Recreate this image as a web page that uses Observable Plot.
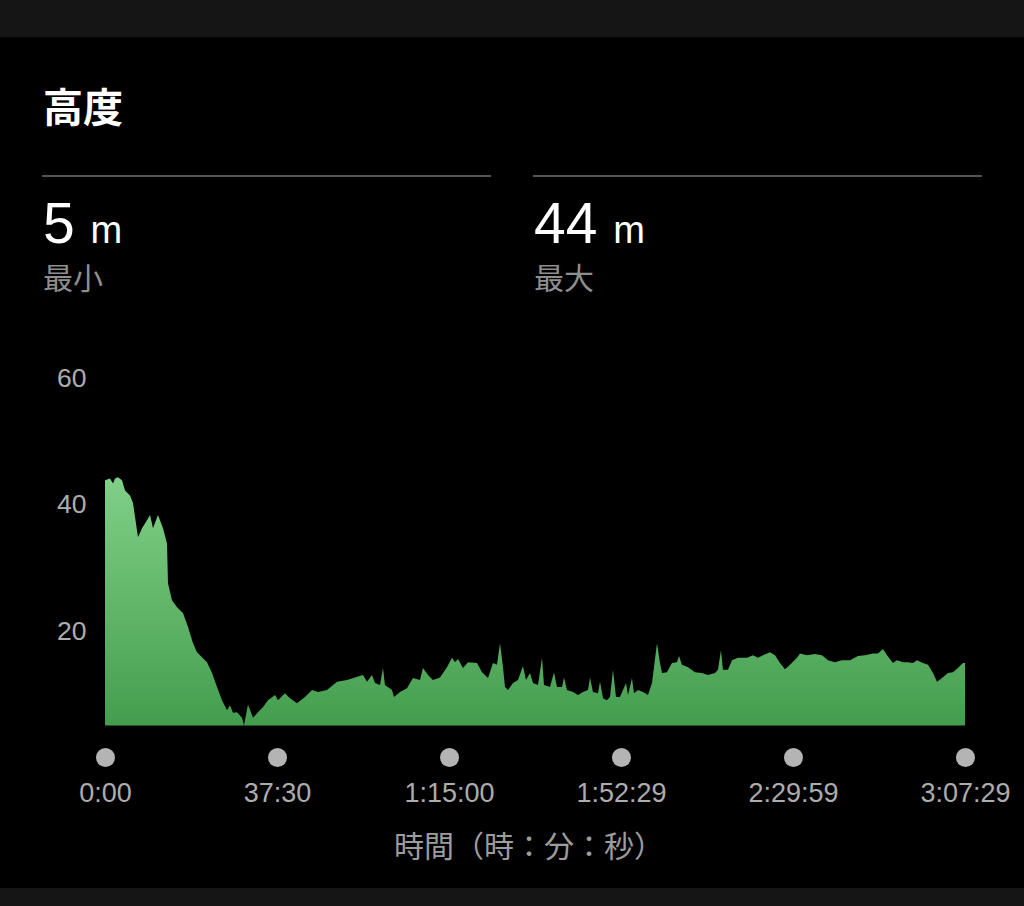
<!DOCTYPE html>
<html>
<head>
<meta charset="utf-8">
<script src="https://cdn.jsdelivr.net/npm/d3@7"></script>
<script src="https://cdn.jsdelivr.net/npm/@observablehq/plot@0.6"></script>
<style>
  html, body { margin: 0; padding: 0; background: #000; width: 1024px; height: 906px; overflow: hidden; }
  body { position: relative; font-family: "Liberation Sans", "Noto Sans CJK JP", sans-serif; }
  .band { position: absolute; left: 0; width: 1024px; background: #151515; }
  .abs { position: absolute; white-space: nowrap; }
  .cjk { font-family: "Noto Sans CJK JP", sans-serif; line-height: 1; }
  .rule { position: absolute; height: 2px; background: #555555; top: 175px; }
  .num { font-family: "Liberation Sans", sans-serif; color: #fff; line-height: 57px; font-size: 57px; }
  .num .unit { font-size: 38px; }
  #chart { position: absolute; left: 0; top: 340px; }
</style>
</head>
<body>
<div class="band" style="top:0;height:37px"></div>
<div class="band" style="top:888px;height:18px"></div>

<div class="abs cjk" style="left:43px;top:85px;font-size:40px;font-weight:700;color:#fff">高度</div>
<div class="rule" style="left:42px;width:449px"></div>
<div class="rule" style="left:533px;width:449px"></div>
<div class="abs num" id="minVal" style="left:43px;top:195px"></div>
<div class="abs num" id="maxVal" style="left:534px;top:195px"></div>
<div class="abs cjk" style="left:43px;top:261px;font-size:30px;color:#8e8e8e">最小</div>
<div class="abs cjk" style="left:534px;top:261px;font-size:30px;color:#8e8e8e">最大</div>

<div id="chart"></div>
<div class="abs cjk" style="left:529px;top:829px;font-size:30px;color:#9c9c9c;transform:translateX(-50%)">時間（時：分：秒）</div>

<script>
// elapsed time (seconds) and elevation (m)
const timeSec = [0,65,105,131,170,222,262,327,366,432,484,549,589,628,693,759,811,824,876,942,1020,1086,1151,1203,1269,1334,1400,1465,1530,1596,1635,1674,1727,1792,1818,1870,1936,2001,2067,2132,2224,2263,2354,2420,2511,2616,2708,2786,2904,3035,3166,3270,3375,3427,3492,3532,3597,3636,3662,3754,3780,3859,3950,4029,4120,4159,4225,4290,4382,4473,4539,4578,4617,4683,4748,4866,4931,5010,5075,5127,5167,5206,5232,5271,5337,5402,5467,5507,5559,5598,5664,5716,5742,5821,5873,5912,5978,6004,6043,6121,6187,6252,6318,6344,6383,6448,6475,6514,6566,6605,6645,6684,6736,6815,6841,6893,6919,6972,7037,7102,7155,7220,7259,7286,7351,7416,7482,7508,7547,7626,7717,7808,7887,7979,8018,8057,8083,8149,8201,8280,8398,8476,8541,8607,8698,8764,8829,8894,8960,9051,9091,9182,9287,9378,9457,9548,9640,9745,9849,9941,10045,10111,10176,10229,10307,10359,10438,10503,10569,10621,10699,10765,10830,10883,10948,11026,11092,11157,11223,11249];
const elevationM = [43.8,44.1,43.3,44.1,44.3,43.8,42.2,41.4,40.2,34.8,36.2,37.5,38.3,36.2,38.3,36.2,33.8,27.5,24.8,23.7,22.8,20.6,18.0,16.6,15.8,15.0,13.3,11.1,9.0,7.4,8.2,7.0,7.1,6.2,5.0,8.3,6.2,7.1,7.9,9.0,9.8,9.0,10.1,9.3,8.5,9.5,10.6,10.3,10.6,11.9,12.2,12.6,13.0,11.9,13.0,11.7,11.4,14.1,11.4,10.6,9.5,10.3,10.9,12.5,12.2,14.1,13.0,12.2,12.6,14.2,15.7,15.0,15.5,14.1,15.0,14.9,13.4,12.5,14.9,14.6,18.0,14.2,11.1,10.6,11.7,12.2,14.4,12.2,13.3,11.7,11.4,15.7,11.4,11.1,13.4,11.1,11.1,12.6,10.6,10.3,9.8,10.3,10.6,12.6,10.3,10.1,11.9,9.3,9.0,9.5,13.8,9.5,9.5,11.7,9.8,12.5,10.1,10.6,10.3,9.8,11.7,18.0,14.9,13.3,13.4,14.9,15.0,16.0,14.6,14.2,13.4,13.3,13.0,13.3,13.8,16.9,13.8,13.8,15.3,15.7,15.7,16.1,15.7,16.1,16.6,16.1,14.9,13.9,14.6,15.7,16.4,16.1,16.3,16.1,15.3,15.0,15.3,15.3,16.0,16.1,16.4,16.4,17.1,16.1,14.9,15.3,15.0,15.0,14.9,15.3,14.9,14.6,13.3,11.9,12.5,13.3,13.4,14.1,14.9,14.9];
const totalSec = 11249;
const minElevation = 5;
const maxElevation = 44;
const yTicks = [20, 40, 60];
const xTickSec = [0, 2250, 4500, 6749, 8999, 11249];
const xTickLabels = ["0:00", "37:30", "1:15:00", "1:52:29", "2:29:59", "3:07:29"];

document.getElementById("minVal").innerHTML = `${minElevation} <span class="unit">m</span>`;
document.getElementById("maxVal").innerHTML = `${maxElevation} <span class="unit">m</span>`;

const data = timeSec.map((t, i) => ({t, v: elevationM[i]}));
const ticks = xTickSec.map((t, i) => ({t, label: xTickLabels[i]}));

const chart = Plot.plot({
  width: 1024,
  height: 530,
  marginLeft: 105,
  marginRight: 59,
  marginTop: 38,
  marginBottom: 113,
  style: {background: "transparent", fontFamily: "Liberation Sans, sans-serif"},
  x: {domain: [0, totalSec], axis: null},
  y: {domain: [0, 60], axis: null},
  marks: [
    Plot.areaY(data, {x: "t", y1: minElevation, y2: "v", fill: "url(#elevGrad)", curve: "linear"}),
    Plot.text(yTicks, {x: 0, y: d => d, text: d => String(d), textAnchor: "end", dx: -19, fontSize: 26.5, fill: "#adadad"}),
    Plot.dot(ticks, {x: "t", y: 0, r: 9.5, fill: "#b4b4b4", stroke: null}),
    Plot.text(ticks, {x: "t", y: 0, text: "label", dy: 36, fontSize: 27, fill: "#adadad"})
  ]
});

const svg = d3.select(chart);
const defs = svg.insert("defs", ":first-child");
const g = defs.append("linearGradient")
  .attr("id", "elevGrad")
  .attr("gradientUnits", "userSpaceOnUse")
  .attr("x1", 0).attr("x2", 0)
  .attr("y1", 137).attr("y2", 386);
g.append("stop").attr("offset", "0").attr("stop-color", "#80d087");
g.append("stop").attr("offset", "1").attr("stop-color", "#449d4e");

document.getElementById("chart").appendChild(chart);
</script>
</body>
</html>
